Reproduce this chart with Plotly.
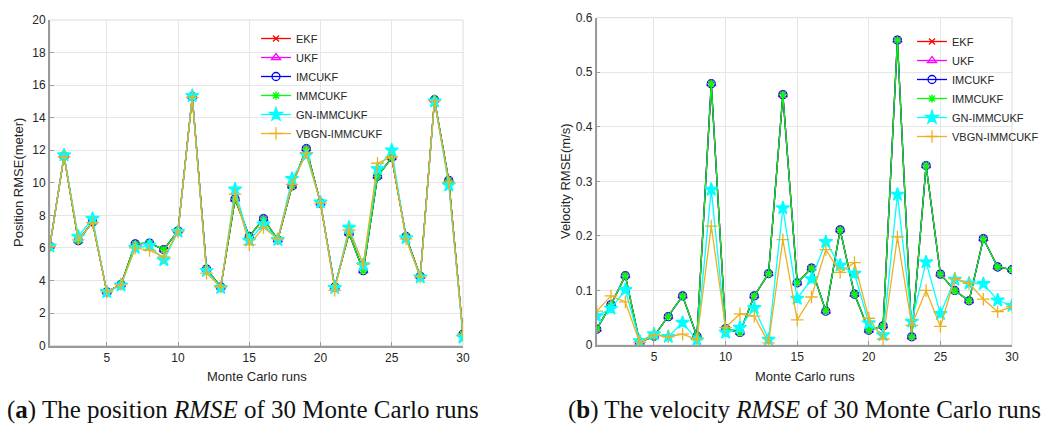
import plotly.graph_objects as go

runs = list(range(1, 31))

# Position RMSE (meter)
pos_base = [6.1, 11.65, 6.45, 7.6, 3.3, 3.75, 6.25, 6.3, 5.9, 7.05,
            15.3, 4.7, 3.6, 9.0, 6.7, 7.8, 6.5, 9.8, 12.1, 8.75,
            3.6, 6.9, 4.6, 10.4, 11.55, 6.7, 4.25, 15.1, 10.15, 0.7]
pos_gn = [6.1, 11.7, 6.7, 7.8, 3.3, 3.7, 6.0, 6.15, 5.25, 7.0,
          15.35, 4.6, 3.55, 9.6, 6.45, 7.45, 6.5, 10.25, 11.7, 8.8,
          3.55, 7.25, 4.95, 10.85, 12.0, 6.6, 4.2, 15.0, 9.85, 0.5]
pos_vbgn = [6.1, 11.6, 6.5, 7.55, 3.3, 3.75, 6.0, 5.85, 5.45, 7.0,
            15.25, 4.45, 3.6, 9.3, 6.2, 7.25, 6.55, 9.9, 11.85, 8.75,
            3.4, 7.1, 5.0, 11.2, 11.6, 6.55, 4.2, 15.05, 10.05, 0.7]

# Velocity RMSE (m/s)
vel_base = [0.029, 0.074, 0.127, 0.005, 0.016, 0.052, 0.090, 0.016, 0.479, 0.030,
            0.023, 0.090, 0.131, 0.459, 0.114, 0.141, 0.062, 0.211, 0.093, 0.027,
            0.035, 0.559, 0.015, 0.329, 0.130, 0.100, 0.081, 0.195, 0.143, 0.138]
vel_gn = [0.053, 0.067, 0.101, 0.007, 0.020, 0.015, 0.041, 0.009, 0.285, 0.023,
          0.032, 0.068, 0.010, 0.251, 0.085, 0.121, 0.189, 0.146, 0.131, 0.040,
          0.018, 0.276, 0.043, 0.152, 0.057, 0.120, 0.113, 0.112, 0.082, 0.072]
vel_vbgn = [0.062, 0.090, 0.079, 0.005, 0.018, 0.015, 0.020, 0.010, 0.218, 0.032,
            0.057, 0.053, 0.004, 0.193, 0.046, 0.088, 0.175, 0.133, 0.151, 0.049,
            0.011, 0.198, 0.036, 0.100, 0.034, 0.122, 0.113, 0.084, 0.061, 0.070]

names = ["EKF", "UKF", "IMCUKF", "IMMCUKF", "GN-IMMCUKF", "VBGN-IMMCUKF"]
colors = ["#ff0000", "#ff00ff", "#0000ff", "#00ff00", "#00ffff", "#edb120"]
symbols = ["x-thin-open", "triangle-up-open", "circle-open", "asterisk-open", "star", "cross-thin-open"]
msizes = [6, 8, 8, 7, 10, 9]

pos_series = [pos_base, pos_base, pos_base, pos_base, pos_gn, pos_vbgn]
vel_series = [vel_base, vel_base, vel_base, vel_base, vel_gn, vel_vbgn]

fig = go.Figure()

for i, name in enumerate(names):
    mk = dict(symbol=symbols[i], size=msizes[i], color=colors[i],
              line=dict(color=colors[i], width=1.3))
    fig.add_trace(go.Scatter(x=runs, y=pos_series[i], name=name, mode="lines+markers",
                             line=dict(color=colors[i], width=1.3), marker=mk,
                             xaxis="x", yaxis="y", legend="legend"))
for i, name in enumerate(names):
    mk = dict(symbol=symbols[i], size=msizes[i], color=colors[i],
              line=dict(color=colors[i], width=1.3))
    fig.add_trace(go.Scatter(x=runs, y=vel_series[i], name=name, mode="lines+markers",
                             line=dict(color=colors[i], width=1.3), marker=mk,
                             xaxis="x2", yaxis="y2", legend="legend2"))

W, H = 1061, 428
lx0, lx1 = 49.8 / W, 463 / W
rx0, rx1 = 596.7 / W, 1012 / W
ly0, ly1 = 1 - 345.6 / H, 1 - 20 / H
ry0, ry1 = 1 - 345 / H, 1 - 17.7 / H

tickfont = dict(family="Liberation Sans, Arial, sans-serif", size=12, color="#262626")
axcommon = dict(showgrid=True, gridcolor="#e6e6e6", gridwidth=1, zeroline=False,
                showline=True, linecolor="#9a9a9a", linewidth=1.5, automargin=False,
                ticks="inside", ticklen=4, tickcolor="#9a9a9a", tickfont=tickfont)

fig.update_layout(
    width=W, height=H, margin=dict(l=0, r=0, t=0, b=0, pad=0, autoexpand=False),
    paper_bgcolor="white", plot_bgcolor="white",
    xaxis=dict(domain=[lx0, lx1], anchor="y", range=[1, 30], tickvals=[5, 10, 15, 20, 25, 30], **axcommon),
    yaxis=dict(domain=[ly0, ly1], anchor="x", range=[0, 20], tickvals=list(range(0, 21, 2)), **axcommon),
    xaxis2=dict(domain=[rx0, rx1], anchor="y2", range=[1, 30], tickvals=[5, 10, 15, 20, 25, 30], **axcommon),
    yaxis2=dict(domain=[ry0, ry1], anchor="x2", range=[0, 0.6], tickvals=[0, 0.1, 0.2, 0.3, 0.4, 0.5, 0.6],
                ticktext=["0", "0.1", "0.2", "0.3", "0.4", "0.5", "0.6"], **axcommon),
    legend=dict(x=256 / W, y=1 - 24 / H, xanchor="left", yanchor="top", bgcolor="rgba(0,0,0,0)",
                font=dict(family="Liberation Sans, Arial, sans-serif", size=11, color="#262626"),
                borderwidth=0, itemwidth=30),
    legend2=dict(x=912 / W, y=1 - 27 / H, xanchor="left", yanchor="top", bgcolor="rgba(0,0,0,0)",
                 font=dict(family="Liberation Sans, Arial, sans-serif", size=11, color="#262626"),
                 borderwidth=0, itemwidth=30),
    showlegend=True,
)

# light box frame (top/right)
for xr, yr in (("x", "y"), ("x2", "y2")):
    fig.add_shape(type="rect", xref=xr + " domain", yref=yr + " domain", x0=0, x1=1, y0=0, y1=1,
                  line=dict(color="#dcdcdc", width=1), layer="below")

titlefont = dict(family="Liberation Sans, Arial, sans-serif", size=13, color="#262626")
ann = dict(xref="paper", yref="paper", showarrow=False, xanchor="center", yanchor="middle")
fig.add_annotation(text="Position RMSE(meter)", x=18 / W, y=1 - 183 / H, textangle=-90, font=titlefont, **ann)
fig.add_annotation(text="Velocity RMSE(m/s)", x=565 / W, y=1 - 181 / H, textangle=-90, font=titlefont, **ann)
fig.add_annotation(text="Monte Carlo runs", x=257 / W, y=1 - 376 / H, font=titlefont, **ann)
fig.add_annotation(text="Monte Carlo runs", x=805 / W, y=1 - 376 / H, font=titlefont, **ann)

capfont = dict(family="Liberation Serif, Times New Roman, serif", size=25, color="#111111")
fig.add_annotation(text="(<b>a</b>) The position <i>RMSE</i> of 30 Monte Carlo runs",
                   x=243 / W, y=1 - 410 / H, font=capfont, **ann)
fig.add_annotation(text="(<b>b</b>) The velocity <i>RMSE</i> of 30 Monte Carlo runs",
                   x=804 / W, y=1 - 410 / H, font=capfont, **ann)

fig.write_html("out.html", config={"displayModeBar": False},
               post_script="document.body.style.margin='0';document.body.style.overflow='hidden';")
